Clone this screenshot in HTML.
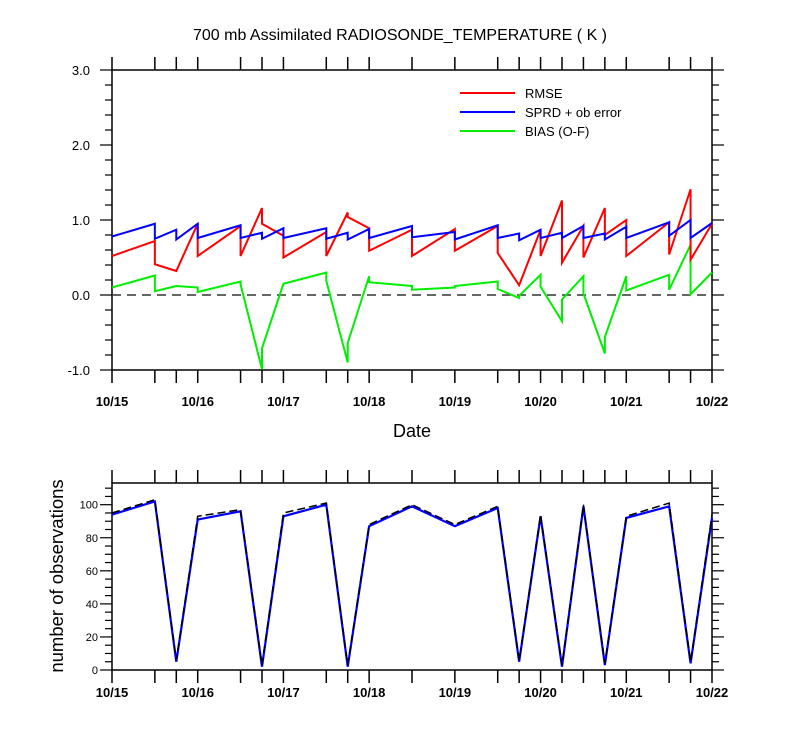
<!DOCTYPE html>
<html><head><meta charset="utf-8"><style>
body{margin:0;background:#fff}
svg text{font-family:"Liberation Sans",sans-serif;fill:#000}
</style></head><body>
<svg id="c" width="800" height="750" xmlns="http://www.w3.org/2000/svg"></svg>
<script>
const times=[0,0.5,0.75,1,1.5,1.75,2,2.5,2.75,3,3.5,4,4.5,4.75,5,5.25,5.5,5.75,6,6.5,6.75,7];
const dateLabels=["10/15","10/16","10/17","10/18","10/19","10/20","10/21","10/22"];
const topTicks=["3.0","2.0","1.0","0.0","-1.0"];
// per interval: start value, end value
const rmseStart=[0.52,0.41,0.32,0.52,0.52,0.95,0.50,0.52,1.04,0.59,0.52,0.59,0.56,0.13,0.52,0.43,0.50,0.80,0.52,0.54,0.47];
const rmseEnd=[0.72,0.32,0.95,0.92,1.16,0.79,0.84,1.10,0.89,0.87,0.88,0.92,0.13,0.87,1.26,0.92,1.16,1.00,0.97,1.41,0.95];
const sprdStart=[0.78,0.75,0.74,0.76,0.76,0.75,0.76,0.75,0.74,0.76,0.77,0.74,0.76,0.73,0.76,0.76,0.76,0.74,0.76,0.79,0.76];
const sprdEnd=[0.95,0.87,0.95,0.93,0.83,0.89,0.89,0.83,0.88,0.92,0.84,0.93,0.82,0.87,0.83,0.92,0.82,0.91,0.97,1.00,0.96];
const biasStart=[0.10,0.05,0.12,0.04,0.14,-0.71,0.15,0.19,-0.64,0.17,0.07,0.12,0.08,-0.01,0.11,-0.06,0.02,-0.56,0.06,0.07,0.01];
const biasEnd=[0.26,0.12,0.10,0.18,-0.99,0.15,0.30,-0.90,0.25,0.12,0.10,0.18,-0.04,0.27,-0.35,0.25,-0.78,0.25,0.27,0.67,0.30];
const countUsed=[94,102,5,91,96,2,93,100,2,87,99,87,98,5,93,2,99,3,92,99,4,92];
const countTotal=[95,103,6,93,97,3,95,101,3,88,100,88,99,6,94,3,100,4,93,101,5,94];
const countTicks=[0,20,40,60,80,100];

const svg=document.getElementById('c');const NS='http://www.w3.org/2000/svg';
function mk(t,a,p){const e=document.createElementNS(NS,t);for(const k in a)e.setAttribute(k,a[k]);(p||svg).appendChild(e);return e;}
const X0=112,X1=712;
const xs=d=>X0+(X1-X0)*d/7;
const yTop=v=>295-75*v;
const yBot=v=>670-1.653*v;

function txt(s,x,y,sz,anchor,name){const t=mk('text',{x:x,y:y,'font-size':sz,'text-anchor':anchor||'middle'});t.textContent=s;

return t;}

txt("700 mb Assimilated RADIOSONDE_TEMPERATURE ( K )",400,40,16,'middle','chart-title');

function frame(yA,yB,name,off){
 const r=mk('rect',{x:X0,y:yA,width:X1-X0,height:yB-yA,fill:'none',stroke:'#000','stroke-width':1.5});
 
 
 times.forEach(t=>{const x=xs(t);
  mk('line',{x1:x,x2:x,y1:yA,y2:yA-13,stroke:'#000','stroke-width':1.5});
  mk('line',{x1:x,x2:x,y1:yB,y2:yB+13,stroke:'#000','stroke-width':1.5});});
 dateLabels.forEach((l,i)=>{const t=txt(l,xs(i),yB+off,13,'middle','x-tick-label');t.setAttribute('font-weight','bold');});
}
frame(70,370,'top-plot-frame',36);
frame(483,670,'bottom-plot-frame',27);

for(let v=-1;v<=3.001;v+=0.2){const y=yTop(v);const maj=Math.abs(v-Math.round(v))<0.01;const L=maj?12:7;
 mk('line',{x1:X0,x2:X0-L,y1:y,y2:y,stroke:'#000','stroke-width':1.2});
 mk('line',{x1:X1,x2:X1+L,y1:y,y2:y,stroke:'#000','stroke-width':1.2});}
topTicks.forEach(s=>txt(s,X0-22,yTop(parseFloat(s))+5,13,'end','y-tick-label'));
const z=mk('line',{x1:X0,x2:X1,y1:yTop(0),y2:yTop(0),stroke:'#333','stroke-width':1.5,'stroke-dasharray':'9,6'});



function saw(st,en,color,name){let d='';
 st.forEach((s,i)=>{d+=(i?'L':'M')+xs(times[i])+','+yTop(s)+'L'+xs(times[i+1])+','+yTop(en[i]);});
 const p=mk('path',{d:d,fill:'none',stroke:color,'stroke-width':2});
 
 }
saw(biasStart,biasEnd,'#00ee00','bias-line');
saw(rmseStart,rmseEnd,'#ff0000','rmse-line');
saw(sprdStart,sprdEnd,'#0000ff','sprd-line');

[["RMSE","#ff0000",93],["SPRD + ob error","#0000ff",112],["BIAS (O-F)","#00ee00",131]].forEach(l=>{
 const g=mk('g',{});
 
 
 mk('line',{x1:460,x2:515,y1:l[2],y2:l[2],stroke:l[1],'stroke-width':2},g);
 const t=mk('text',{x:525,y:l[2]+5,'font-size':13},g);t.textContent=l[0];});

txt("Date",412,437,18,'middle','x-axis-title');

for(let v=0;v<=113;v+=5){const y=yBot(v);const maj=v%20===0;const L=maj?12:7;
 mk('line',{x1:X0,x2:X0-L,y1:y,y2:y,stroke:'#000','stroke-width':1.2});
 mk('line',{x1:X1,x2:X1+L,y1:y,y2:y,stroke:'#000','stroke-width':1.2});}
countTicks.forEach(v=>txt(String(v),X0-14,yBot(v)+4,11,'end','y-tick-label'));
const yt=txt("number of observations",0,0,18.5,'middle','y-axis-title');
yt.setAttribute('transform','translate(63,576) rotate(-90)');

function cline(vals,color,dash,name){const d=vals.map((v,i)=>(i?'L':'M')+xs(times[i])+','+yBot(v)).join('');
 const a={d:d,fill:'none',stroke:color,'stroke-width':dash?1.5:2.2};if(dash)a['stroke-dasharray']='8,4';
 const p=mk('path',a);
 
 }
cline(countUsed,'#0000ff',false,'obs-used-line');
cline(countTotal,'#000',true,'obs-total-line');
</script>
</body></html>
